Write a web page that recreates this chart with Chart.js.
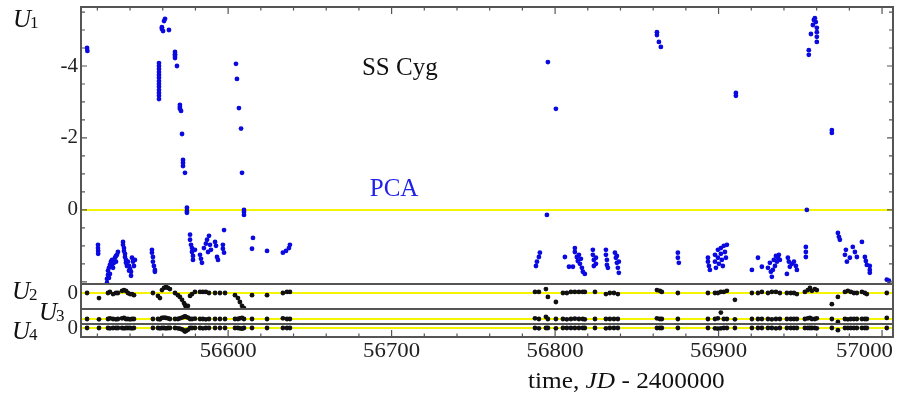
<!DOCTYPE html>
<html>
<head>
<meta charset="utf-8">
<script src="https://cdn.jsdelivr.net/npm/chart.js@4.4.0/dist/chart.umd.min.js"></script>
<style>
  body { margin: 0; background: #fff; }
  canvas { display: block; }
</style>
</head>
<body>
<canvas id="chart" width="898" height="394"></canvas>
<script>
// axis ranges and tick labels
const xMin = 56510, xMax = 57006.7;
const xTicks = [56600, 56700, 56800, 56900, 57000];
const u1Ticks = [-4, -2, 0];
const u2Ticks = [0];
const u3Ticks = [];
const u4Ticks = [0];

// U1 (blue), JD and value
const t1 = [
  56513.7, 56513.9,
  56520.4, 56520.4, 56520.5, 56520.5,
  56525.9, 56525.9, 56526.5, 56526.5, 56527.1, 56527.7, 56528.3, 56529.0, 56529.0, 56527.7, 56527.1,
  56529.6, 56530.2, 56530.8, 56531.4, 56532.0, 56532.6, 56531.4,
  56535.7, 56535.7, 56536.3, 56536.3, 56536.9, 56536.9, 56537.5, 56537.5, 56538.1, 56538.7,
  56539.4, 56540.0, 56540.6, 56541.2, 56541.8, 56542.4, 56540.6, 56539.4, 56543.0,
  56553.4, 56553.4, 56554.0, 56554.0, 56554.6, 56555.2, 56555.2,
  56557.7, 56557.7, 56557.7, 56557.7, 56557.7, 56557.7, 56557.7, 56557.7, 56557.7, 56557.7, 56557.7, 56557.7, 56557.7,
  56559.5, 56559.5, 56560.2, 56560.8, 56561.4, 56563.8,
  56567.5, 56567.5, 56567.5, 56567.5, 56568.7,
  56570.5, 56570.5, 56570.5, 56571.2, 56571.8,
  56572.4, 56572.4, 56572.4, 56573.6,
  56574.8, 56574.8, 56574.8,
  56576.7, 56576.7, 56577.3, 56577.9, 56577.9, 56578.5, 56578.5, 56579.7,
  56582.8, 56583.4, 56584.0,
  56585.2, 56586.4, 56587.1, 56588.3, 56588.9, 56589.5, 56587.7,
  56592.0, 56592.6, 56593.2, 56593.8,
  56597.5, 56596.8, 56596.8, 56597.5,
  56604.8, 56605.4, 56606.6, 56607.9, 56608.5, 56609.7, 56609.7, 56609.7,
  56615.2, 56614.6, 56623.8, 56633.5, 56635.4, 56637.2, 56637.8,
  56788.3, 56788.9, 56790.1, 56790.7,
  56795.0, 56795.6, 56800.5,
  56806.0, 56808.5, 56810.9, 56812.1, 56812.1, 56813.3, 56813.9, 56815.2, 56816.4, 56817.0, 56818.2, 56814.6, 56815.8,
  56823.1, 56823.1, 56823.7, 56823.7, 56825.0, 56825.0,
  56831.1, 56831.1, 56831.7, 56831.7, 56832.3,
  56836.6, 56837.2, 56837.8, 56837.8, 56838.4, 56839.0, 56839.0,
  56862.3, 56862.3, 56863.5, 56864.7,
  56875.1, 56875.1, 56875.7,
  56893.5, 56893.5, 56894.1, 56894.7,
  56897.8, 56897.8, 56898.4, 56899.6, 56899.6, 56900.2, 56901.4, 56901.4, 56902.0, 56902.6, 56903.2, 56903.9, 56904.5, 56905.1,
  56910.6, 56910.6,
  56920.4, 56924.1, 56926.5,
  56930.2, 56931.4, 56932.0, 56932.6, 56933.2, 56933.8, 56934.5, 56935.1, 56935.7, 56936.3, 56936.9, 56937.5,
  56941.8, 56942.4, 56943.0, 56943.6, 56944.9, 56946.1, 56947.3, 56947.9,
  56953.4, 56953.4, 56953.4,
  56954.0,
  56955.2, 56955.2, 56956.5, 56957.7, 56958.3, 56958.9, 56959.5, 56960.1, 56960.1, 56960.1, 56960.1,
  56969.3, 56969.3,
  56973.0, 56973.6, 56974.2,
  56977.3, 56977.9, 56978.5, 56980.3,
  56982.1, 56983.4, 56984.6,
  56987.7, 56989.5, 56990.1, 56990.7, 56992.5, 56992.5, 56992.5,
  57002.9, 57004.2
];
const u1 = [
  -4.50, -4.42,
  0.97, 1.06, 1.14, 1.22,
  2.03, 1.92, 1.81, 1.69, 1.61, 1.53, 1.44, 1.39, 1.56, 1.78, 1.89,
  1.61, 1.47, 1.33, 1.28, 1.25, 1.17, 1.44,
  0.89, 0.97, 1.06, 1.14, 1.22, 1.31, 1.39, 1.47, 1.56, 1.44,
  1.56, 1.64, 1.72, 1.33, 1.44, 1.56, 1.83, 1.69, 1.39,
  1.11, 1.19, 1.31, 1.44, 1.56, 1.67, 1.72,
  -4.08, -4.00, -3.92, -3.83, -3.75, -3.67, -3.58, -3.50, -3.42, -3.33, -3.25, -3.17, -3.08,
  -5.08, -5.03, -4.97, -5.25, -5.31, -5.00,
  -4.39, -4.33, -4.28, -4.22, -4.00,
  -2.92, -2.86, -2.81, -2.75, -2.11,
  -1.39, -1.31, -1.22, -1.03,
  -0.06, 0.03, 0.08,
  0.69, 0.83, 0.97, 1.06, 1.17, 1.28, 1.39, 1.11,
  1.25, 1.36, 1.47,
  1.06, 0.94, 0.83, 0.72, 0.97, 1.11, 1.17,
  0.89, 1.00, 1.31, 1.39,
  0.56, 0.97, 1.08, 1.19,
  -4.06, -3.64, -2.83, -2.26, -1.03, 0.00, 0.06, 0.14,
  0.78, 1.08, 1.14, 1.19, 1.14, 1.06, 0.97,
  1.56, 1.44, 1.31, 1.19,
  0.14, -4.11, -2.81,
  1.31, 1.58, 1.58, 1.06, 1.17, 1.31, 1.42, 1.50, 1.61, 1.72, 1.78, 1.25, 1.36,
  1.11, 1.25, 1.39, 1.56, 1.33, 1.50,
  1.11, 1.25, 1.39, 1.53, 1.61,
  1.19, 1.33, 1.47, 1.28, 1.61, 1.75, 1.44,
  -4.94, -4.86, -4.67, -4.53,
  1.19, 1.33, 1.47,
  1.33, 1.44, 1.56, 1.67,
  1.25, 1.44, 1.61, 1.11, 1.33, 1.50, 1.06, 1.22, 1.39, 1.56, 1.00, 1.17, 1.33, 0.97,
  -3.25, -3.17,
  1.67, 1.33, 1.58,
  1.61, 1.47, 1.72, 1.86, 1.67, 1.39, 1.56, 1.28, 1.44, 1.33, 1.25, 1.39,
  1.78, 1.33, 1.44, 1.58, 1.50, 1.44, 1.56, 1.67,
  1.03, 1.17, 1.31,
  0.00,
  -4.44, -4.31, -4.89, -5.14, -5.28, -5.33, -5.22, -5.06, -4.94, -4.81, -4.67,
  -2.22, -2.14,
  0.64, 0.75, 0.83,
  1.25, 1.11, 1.44, 1.33,
  1.03, 1.17, 1.31,
  0.89, 1.31, 1.42, 1.53, 1.56, 1.67, 1.75,
  1.94, 1.97
];

// U2, U3, U4 (black), shared JD
const tB = [
  56513.7, 56521.0, 56526.5, 56527.7, 56529.6, 56531.4, 56532.6, 56535.1, 56536.3, 56537.5,
  56538.7, 56540.0, 56541.2, 56542.4, 56554.0, 56557.1, 56558.3, 56559.5, 56560.8, 56562.0,
  56563.2, 56564.4, 56567.5, 56569.3, 56570.5, 56571.8, 56573.0, 56573.6, 56574.2, 56575.4,
  56576.7, 56577.9, 56579.7, 56582.8, 56584.6, 56586.4, 56588.3, 56592.0, 56595.0, 56598.1,
  56604.2, 56606.0, 56607.2, 56608.5, 56609.7, 56614.6, 56623.8, 56633.5, 56636.0, 56637.8,
  56787.7, 56790.1, 56794.4, 56795.6, 56800.5, 56804.8, 56807.2, 56809.7, 56812.1, 56814.6,
  56817.0, 56818.2, 56824.4, 56831.1, 56833.5, 56836.0, 56838.4, 56862.3, 56864.1, 56865.3,
  56875.1, 56893.5, 56897.8, 56899.6, 56901.4, 56903.2, 56905.1, 56910.0, 56920.4, 56924.1,
  56926.5, 56930.2, 56932.6, 56935.1, 56937.5, 56941.8, 56944.2, 56946.1, 56947.9, 56952.8,
  56954.6, 56955.9, 56957.1, 56958.9, 56960.1, 56969.3, 56973.0, 56977.3, 56979.1, 56980.9,
  56982.8, 56984.6, 56987.7, 56989.5, 56990.7, 57002.9
];
const u2 = [
  0, 0.14, 0, -0.03, 0.03, 0, 0, -0.06, -0.08, -0.06,
  0, 0.03, 0.03, 0.06, 0, 0.08, 0.14, -0.08, -0.14, -0.17,
  -0.14, -0.11, 0, 0.06, 0.11, 0.19, 0.28, 0.33, 0.39, 0.36,
  0.08, 0.03, -0.03, -0.03, -0.03, -0.03, 0, 0, 0, 0,
  0.06, 0.14, 0.25, 0.36, 0.42, 0.06, 0.06, 0, -0.03, -0.03,
  -0.03, -0.03, -0.11, 0.11, 0.25, 0, 0, -0.03, -0.03, -0.03,
  -0.03, -0.03, -0.03, 0.03, 0, 0, 0.03, -0.08, -0.06, -0.03,
  0, 0, 0, 0, -0.03, -0.03, -0.06, 0.19, 0, 0,
  -0.03, 0, -0.03, -0.03, 0, 0, 0, 0, 0.03, -0.03,
  -0.08, -0.14, -0.06, -0.11, -0.08, 0.31, 0.11, -0.03, -0.06, -0.03,
  0, 0, -0.03, 0, 0.03, 0
];
const u3 = [
  0, 0.01, 0, -0.02, 0, 0.01, 0, -0.02, -0.03, 0,
  0, 0.01, 0, 0, 0, 0, 0.01, -0.03, -0.04, -0.03,
  -0.02, 0, 0, 0, -0.02, -0.04, -0.06, -0.07, -0.06, -0.04,
  0, 0, -0.01, 0, 0, 0.01, 0, 0, 0, 0,
  0, 0, -0.02, -0.03, 0, 0, 0, -0.02, 0, 0,
  -0.02, 0, -0.06, 0, 0, 0, 0.01, 0, -0.01, 0,
  0, 0.01, 0, 0, 0, 0, 0, -0.02, 0, 0,
  0, 0, 0, -0.02, -0.18, 0, 0, 0.01, 0, 0,
  0, 0, 0.01, 0, 0, 0, 0, 0, 0, 0,
  -0.02, -0.03, 0, 0, -0.02, 0, 0.08, 0, 0.01, 0,
  0, 0, 0, 0, 0, -0.03
];
const u4 = [
  0, 0, 0, 0.01, 0, 0, 0, 0, 0.01, 0,
  0, 0, 0.01, 0, 0, 0, 0.01, 0, 0, 0.01,
  0, 0, 0, 0.01, 0.02, 0.04, 0.07, 0.10, 0.08, 0.05,
  0, 0, 0, 0, 0.01, 0, 0, 0, 0, 0,
  0, 0, 0.01, 0.02, 0, 0, 0, 0, 0, 0,
  0, 0.01, 0, 0, 0.01, 0, 0, 0, 0, 0,
  0, 0, 0, 0.01, 0, 0, 0, 0, 0, 0,
  0, 0, 0.01, 0.02, 0.01, 0, 0, 0, 0, 0,
  0, 0, 0, 0.01, 0, 0, 0, 0, 0, 0,
  0, 0, 0, 0, 0.01, 0, 0.06, 0, 0, 0,
  0, 0, 0, 0, 0, 0
];

const serif = '"Liberation Serif", "DejaVu Serif", serif';
const frameColor = '#555';

function pts(ts, vs) {
  return ts.map((t, i) => ({ x: t, y: vs[i] }));
}
function zeroLine(axis) {
  return {
    data: [{ x: xMin, y: 0 }, { x: xMax, y: 0 }], yAxisID: axis, showLine: true,
    borderColor: '#f5f500', borderWidth: 2, pointRadius: 0, order: 5
  };
}
function dots(data, axis, color) {
  return { data: data, yAxisID: axis, backgroundColor: color, borderWidth: 0, pointRadius: 2.4, order: 0 };
}
function noPad(s) {
  s.paddingTop = 0; s.paddingBottom = 0; s.paddingLeft = 0; s.paddingRight = 0;
}
function yAxis(min, max, weight, order, ticks) {
  return {
    type: 'linear', position: 'left', stack: 'u', stackWeight: weight, weight: order,
    reverse: true, min: min, max: max,
    grid: { display: false, drawTicks: false }, border: { display: false },
    afterBuildTicks: s => { s.ticks = ticks.map(v => ({ value: v })); },
    afterFit: s => { s.width = 81; noPad(s); },
    ticks: { display: ticks.length > 0, font: { family: serif, size: 21 }, color: '#222', padding: 3 }
  };
}

// text squeezed a bit wider, like the original figure
function wideText(ctx, str, x, y, sx) {
  ctx.save();
  ctx.translate(x, y);
  ctx.scale(sx, 1);
  ctx.fillText(str, 0, 0);
  ctx.restore();
}

const decor = {
  id: 'decor',
  afterDatasetsDraw(chart) {
    const ctx = chart.ctx, a = chart.chartArea, sc = chart.scales;
    ctx.save();
    // inward ticks
    ctx.strokeStyle = frameColor;
    ctx.lineWidth = 1.2;
    ctx.beginPath();
    for (let v = 56520; v <= 57000; v += 20) {
      const px = sc.x.getPixelForValue(v);
      const len = v % 100 === 0 ? 7 : 3.5;
      ctx.moveTo(px, a.top); ctx.lineTo(px, a.top + len);
      ctx.moveTo(px, a.bottom); ctx.lineTo(px, a.bottom - len);
    }
    for (let v = -5.5; v <= 2; v += 0.5) {
      const py = sc.y1.getPixelForValue(v);
      const len = v % 2 === 0 ? 6 : 4;
      ctx.moveTo(a.left, py); ctx.lineTo(a.left + len, py);
      ctx.moveTo(a.right, py); ctx.lineTo(a.right - len, py);
    }
    ctx.stroke();
    // panel frames
    ctx.lineWidth = 2;
    ['y1', 'y2', 'y3', 'y4'].forEach(k => {
      const s = sc[k];
      ctx.strokeRect(a.left, s.top, a.right - a.left, s.bottom - s.top);
    });

    // x tick labels (last one kept inside the frame)
    ctx.fillStyle = '#222';
    ctx.textBaseline = 'alphabetic';
    ctx.textAlign = 'center';
    ctx.font = '20px ' + serif;
    xTicks.forEach(v => {
      const lbl = String(v);
      const w = ctx.measureText(lbl).width * 1.14;
      const cx = Math.min(sc.x.getPixelForValue(v), a.right - w / 2);
      wideText(ctx, lbl, cx, a.bottom + 20, 1.14);
    });

    // panel names
    ctx.fillStyle = '#111';
    ctx.textAlign = 'left';
    function uLabel(sub, x, y) {
      ctx.font = 'italic 25px ' + serif;
      ctx.fillText('U', x, y);
      const w = ctx.measureText('U').width;
      ctx.font = '17px ' + serif;
      ctx.fillText(sub, x + w - 1, y + 1);
    }
    uLabel('1', 13, 27);
    uLabel('2', 12, 299);
    uLabel('3', 39, 320);
    uLabel('4', 12, 339);

    ctx.textAlign = 'center';
    ctx.font = '25px ' + serif;
    ctx.fillText('SS Cyg', sc.x.getPixelForValue(56705), sc.y1.getPixelForValue(-3.75));
    ctx.fillStyle = '#1f1fe8';
    ctx.fillText('PCA', sc.x.getPixelForValue(56701.5), sc.y1.getPixelForValue(-0.4));

    // x axis title
    ctx.fillStyle = '#111';
    ctx.textAlign = 'left';
    const sx = 1.1;
    const parts = [['time, ', ''], ['JD', 'italic '], [' - 2400000', '']];
    let total = 0;
    parts.forEach(p => { ctx.font = p[1] + '23px ' + serif; total += ctx.measureText(p[0]).width * sx; });
    let x = sc.x.getPixelForValue(56843.6) - total / 2;
    parts.forEach(p => {
      ctx.font = p[1] + '23px ' + serif;
      wideText(ctx, p[0], x, 388, sx);
      x += ctx.measureText(p[0]).width * sx;
    });
    ctx.restore();
  }
};

new Chart(document.getElementById('chart'), {
  type: 'scatter',
  data: {
    datasets: [
      dots(pts(t1, u1), 'y1', '#0a0ae0'),
      dots(pts(tB, u2), 'y2', '#111'),
      dots(pts(tB, u3), 'y3', '#111'),
      dots(pts(tB, u4), 'y4', '#111'),
      zeroLine('y1'), zeroLine('y2'), zeroLine('y3'), zeroLine('y4')
    ]
  },
  options: {
    responsive: false,
    animation: false,
    layout: { padding: { top: 7, right: 5, left: 0, bottom: 0 } },
    plugins: { legend: { display: false }, tooltip: { enabled: false } },
    scales: {
      x: {
        type: 'linear', position: 'bottom', min: xMin, max: xMax,
        grid: { display: false, drawTicks: false }, border: { display: false },
        afterBuildTicks: s => { s.ticks = xTicks.map(v => ({ value: v })); },
        afterFit: s => { s.height = 57; noPad(s); },
        ticks: { display: false }
      },
      y1: yAxis(-5.64, 2.06, 277, 4, u1Ticks),
      y2: yAxis(-0.25, 0.444, 25, 3, u2Ticks),
      y3: yAxis(-0.278, 0.139, 15, 2, u3Ticks),
      y4: yAxis(-0.111, 0.25, 13, 1, u4Ticks)
    }
  },
  plugins: [decor]
});
</script>
</body>
</html>
